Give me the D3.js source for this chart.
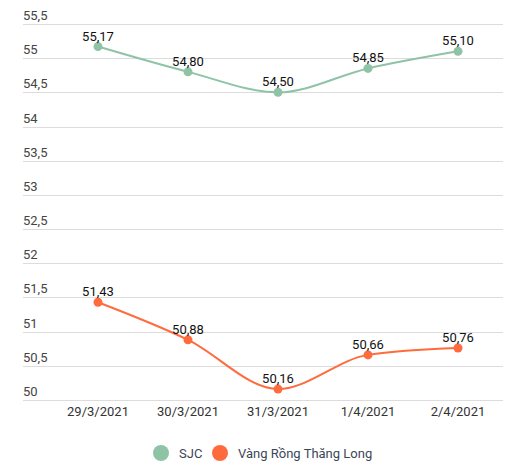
<!DOCTYPE html>
<html>
<head>
<meta charset="utf-8">
<script src="https://cdn.jsdelivr.net/npm/d3@7"></script>
<style>
  body { margin: 0; background: #fff; }
  text { font-family: Roboto, "Noto Sans", sans-serif; }
</style>
</head>
<body>
<script>
// data
var dates = ["29/3/2021", "30/3/2021", "31/3/2021", "1/4/2021", "2/4/2021"];
var sjc = [55.17, 54.80, 54.50, 54.85, 55.10];
var rong = [51.43, 50.88, 50.16, 50.66, 50.76];
var yTicks = [50, 50.5, 51, 51.5, 52, 52.5, 53, 53.5, 54, 54.5, 55, 55.5];
var seriesNames = ["SJC", "Vàng Rồng Thăng Long"];
var seriesColors = ["#8fc3a6", "#ff6b3d"];

var width = 516, height = 471;

var vi = d3.formatLocale({ decimal: ",", thousands: ".", grouping: [3], currency: ["", " đ"] });
var fmtVal = vi.format(".2f");
var fmtTick = vi.format("~f");

var svg = d3.select("body").append("svg")
    .attr("width", width)
    .attr("height", height);

var x = d3.scalePoint()
    .domain(dates)
    .range([53, 503])
    .padding(0.5);

var y = d3.scaleLinear()
    .domain([50, 55.5])
    .range([400, 24]);

// gridlines + y labels
var yAxis = svg.append("g").attr("class", "y-axis");
yAxis.selectAll("line")
    .data(yTicks)
    .enter()
    .append("line")
    .attr("x1", 23)
    .attr("x2", 503)
    .attr("y1", function (d) { return Math.round(y(d)) + 0.5; })
    .attr("y2", function (d) { return Math.round(y(d)) + 0.5; })
    .attr("stroke", "#dcdcdc")
    .attr("stroke-width", 1);
yAxis.selectAll("text")
    .data(yTicks)
    .enter()
    .append("text")
    .attr("x", 23)
    .attr("y", function (d) { return y(d) - 4; })
    .attr("font-size", 13)
    .attr("fill", "#444")
    .text(function (d) { return fmtTick(d); });

// x labels
svg.append("g").selectAll("text")
    .data(dates)
    .enter()
    .append("text")
    .attr("x", function (d) { return x(d); })
    .attr("y", 416)
    .attr("text-anchor", "middle")
    .attr("font-size", 13)
    .attr("fill", "#333")
    .text(function (d) { return d; });

var series = [sjc, rong];
var line = d3.line()
    .x(function (d, i) { return x(dates[i]); })
    .y(function (d) { return y(d); })
    .curve(d3.curveMonotoneX);

series.forEach(function (vals, s) {
    var g = svg.append("g");
    g.append("path")
        .datum(vals)
        .attr("d", line)
        .attr("fill", "none")
        .attr("stroke", seriesColors[s])
        .attr("stroke-width", 2);
    g.selectAll("circle")
        .data(vals)
        .enter()
        .append("circle")
        .attr("cx", function (d, i) { return x(dates[i]); })
        .attr("cy", function (d) { return y(d); })
        .attr("r", 4.5)
        .attr("fill", seriesColors[s]);
    g.selectAll("text")
        .data(vals)
        .enter()
        .append("text")
        .attr("x", function (d, i) { return x(dates[i]); })
        .attr("y", function (d) { return y(d) - 6; })
        .attr("text-anchor", "middle")
        .attr("font-size", 13)
        .attr("fill", "#111")
        .text(function (d) { return fmtVal(d); });
});

// legend
var legend = svg.append("g");
var legX = [161, 220];
seriesNames.forEach(function (name, i) {
    legend.append("circle")
        .attr("cx", legX[i])
        .attr("cy", 453)
        .attr("r", 8)
        .attr("fill", seriesColors[i]);
    legend.append("text")
        .attr("x", legX[i] + 18)
        .attr("y", 458)
        .attr("font-size", 13)
        .attr("fill", "#3d4656")
        .text(name);
});
</script>
</body>
</html>
